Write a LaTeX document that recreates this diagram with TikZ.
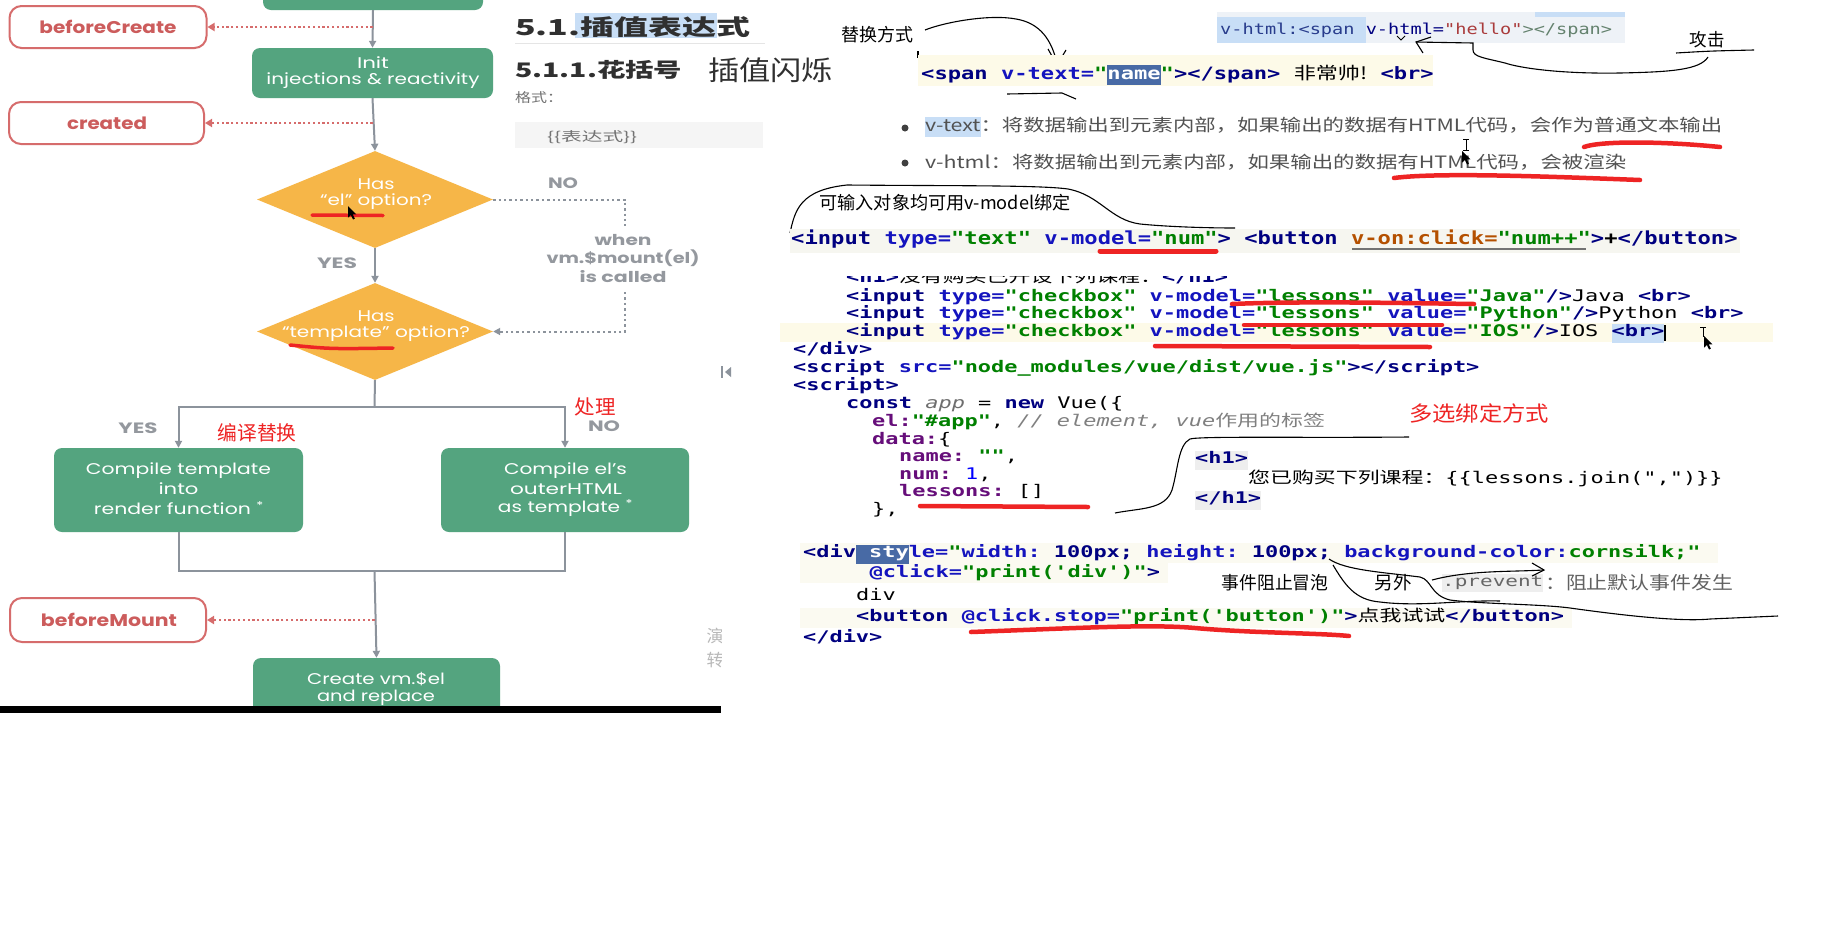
\documentclass[tikz,border=0pt]{standalone}
\usepackage{fontspec}
\setmainfont{Poppins}
\setmonofont{DejaVu Sans Mono}
\newfontfamily\cjk{Noto Sans CJK SC}
\usetikzlibrary{arrows.meta,shapes.geometric}
\newcommand\W[2]{\resizebox{#1}{\height}{#2}}
\newcommand\SX[2]{\scalebox{#1}[1]{#2}}
\newcommand\hlb[2]{{\setlength{\fboxsep}{0pt}\colorbox{#1}{\strut #2}}}
\definecolor{vgreen}{RGB}{84,164,127}
\definecolor{vorange}{RGB}{246,182,72}
\definecolor{hookred}{RGB}{214,108,108}
\definecolor{hooktext}{RGB}{204,92,92}
\definecolor{lgray}{RGB}{140,147,156}
\definecolor{lblgray}{RGB}{148,152,158}
\definecolor{annred}{RGB}{238,36,36}
\definecolor{navy}{RGB}{0,0,128}
\definecolor{attrc}{RGB}{20,20,190}
\definecolor{strc}{RGB}{0,128,0}
\definecolor{keyc}{RGB}{102,14,122}
\definecolor{cmtc}{RGB}{128,128,128}
\definecolor{appc}{RGB}{110,110,110}
\definecolor{numc}{RGB}{0,0,255}
\definecolor{vonc}{RGB}{180,80,0}
\definecolor{selbg}{RGB}{200,222,246}
\definecolor{selbgdark}{RGB}{72,106,165}
\definecolor{codebg}{RGB}{246,246,240}
\definecolor{yelbg}{RGB}{253,250,232}
\definecolor{paleybg}{RGB}{251,250,241}
\definecolor{topbg}{RGB}{238,242,247}
\definecolor{vhone}{RGB}{40,60,140}
\definecolor{helloc}{RGB}{170,60,60}
\definecolor{ggreen}{RGB}{100,130,110}
\definecolor{bultext}{RGB}{82,82,82}
\definecolor{headc}{RGB}{48,48,48}
\definecolor{tagbg}{RGB}{238,238,238}
\newcommand\cTag[1]{\textcolor{navy}{\textbf{#1}}}
\newcommand\cAtt[1]{\textcolor{attrc}{\textbf{#1}}}
\newcommand\cStr[1]{\textcolor{strc}{\textbf{#1}}}
\newcommand\cKey[1]{\textcolor{keyc}{\textbf{#1}}}
\newcommand\cCmt[1]{\textcolor{cmtc}{\textit{#1}}}
\newcommand\zh[1]{{\cjk #1}}
\newcommand\cD[1]{\SX{1.37}{\strut #1}}
\tikzset{
  flowbox/.style={rounded corners=8pt, fill=vgreen, draw=none, inner sep=0pt},
  hookbox/.style={draw=hookred, line width=2pt, rounded corners=12pt, fill=white, inner sep=0pt},
  hookline/.style={hookred, line width=1.8pt, dash pattern=on 2.2pt off 2.6pt, -{Triangle[length=7pt,width=8pt]}},
  flowline/.style={lgray, line width=2pt, -{Triangle[length=7pt,width=7pt]}},
  flowplain/.style={lgray, line width=2pt},
  nodash/.style={lgray, line width=2pt, dash pattern=on 2.4pt off 3pt},
  wtxt/.style={text=white, font=\fontsize{15.5}{18}\selectfont, inner sep=0pt},
  hooktxt/.style={text=hooktext, font=\bfseries\fontsize{17}{20}\selectfont, inner sep=0pt},
  graytxt/.style={text=lblgray, font=\bfseries\fontsize{15}{18}\selectfont, inner sep=0pt},
  ann/.style={font=\cjk\fontsize{18}{21}\selectfont, inner sep=0pt},
  annr/.style={text=annred, font=\cjk\fontsize{20}{23}\selectfont, inner sep=0pt},
  redmark/.style={draw=annred, line width=4.5pt, line cap=round},
  pen/.style={draw=black, line width=1.1pt},
  codeD/.style={anchor=west, inner sep=0pt, font=\ttfamily\fontsize{16}{19}\selectfont},
  cursorpic/.pic={\fill[black] (0,0) -- (0,13) -- (3.2,10) -- (5.6,15) -- (7.6,14) -- (5.2,9.2) -- (9.2,9.2) -- cycle;}
}
\begin{document}
\begin{tikzpicture}[x=1pt,y=-1pt]
\useasboundingbox (0,0) rectangle (1829,951);
\fill[white] (0,0) rectangle (1829,951);

% ---------------- flowchart ----------------
\node[flowbox, minimum width=220pt, minimum height=30pt] (top) at (373,-5) {};
\node[hookbox, minimum width=197pt, minimum height=42pt] (bc) at (108,27) {};
\node[hooktxt] at (108,27) {\W{137pt}{beforeCreate}};
\node[flowbox, minimum width=241pt, minimum height=50pt] (init) at (372.5,73) {};
\node[wtxt] at (373,63) {\W{32pt}{Init}};
\node[wtxt] at (373,81) {\W{213pt}{injections \& reactivity}};
\node[hookbox, minimum width=195pt, minimum height=42pt] (cr) at (106.5,123) {};
\node[hooktxt] at (107,123) {\W{80pt}{created}};
\node[diamond, fill=vorange, inner sep=0pt, minimum width=236pt, minimum height=97pt] (d1) at (375,199.5) {};
\node[wtxt] at (376,184) {\W{37pt}{Has}};
\node[wtxt] at (376,202) {\W{112pt}{“el” option?}};
\node[diamond, fill=vorange, inner sep=0pt, minimum width=236pt, minimum height=97pt] (d2) at (375,331.5) {};
\node[wtxt] at (376,316) {\W{37pt}{Has}};
\node[wtxt] at (376,334) {\W{188pt}{“template” option?}};
\node[flowbox, minimum width=249pt, minimum height=84pt] (ct) at (178.5,490) {};
\node[wtxt] at (178.5,471) {\W{185pt}{Compile template}};
\node[wtxt] at (178.5,489) {\W{40pt}{into}};
\node[wtxt] at (179,508) {\W{170pt}{render function \textsuperscript{*}}};
\node[flowbox, minimum width=248pt, minimum height=84pt] (ce) at (565,490) {};
\node[wtxt] at (565.5,471) {\W{123pt}{Compile el’s}};
\node[wtxt] at (566,489) {\W{112pt}{outerHTML}};
\node[wtxt] at (565.5,508) {\W{135pt}{as template \textsuperscript{*}}};
\node[hookbox, minimum width=196pt, minimum height=44pt] (bm) at (108,620) {};
\node[hooktxt] at (109,620) {\W{136pt}{beforeMount}};
\node[flowbox, minimum width=247pt, minimum height=66pt] (cv) at (376.5,691) {};
\node[wtxt] at (376,679) {\W{138pt}{Create vm.\$el}};
\node[wtxt] at (376,698) {\W{118pt}{and replace}};
\fill[white] (0,713) rectangle (740,740);
\fill[black] (0,706) rectangle (721,713);

\draw[flowline] (top.south) -- (init.north);
\draw[hookline] (init.north |- bc.east) -- (bc.east);
\draw[flowline] (init.south) -- (d1.north);
\draw[hookline] (init.south |- cr.east) -- (cr.east);
\draw[flowline] (d1.south) -- (d2.north);
\coordinate (n1) at (625,199.5);
\coordinate (n2) at (625,226);
\coordinate (n3) at (625,292);
\draw[nodash] (d1.east) -- (n1) -- (n2);
\draw[nodash, -{Triangle[length=7pt,width=7pt]}] (n3) -- (n3 |- d2.east) -- (d2.east);
\node[graytxt] at (337,263) {\W{40pt}{YES}};
\node[graytxt] at (563,183) {\W{30pt}{NO}};
\node[graytxt] at (623,240) {\W{57pt}{when}};
\node[graytxt] at (623,258) {\W{153pt}{vm.\$mount(el)}};
\node[graytxt] at (623,277) {\W{87pt}{is called}};
\coordinate (sp) at (374.5,407);
\draw[flowplain] (d2.south) -- (sp);
\draw[flowline] (sp) -| (ct.north);
\draw[flowline] (sp) -| (ce.north);
\coordinate (mg) at (374.5,571);
\draw[flowplain] (ct.south) |- (mg);
\draw[flowplain] (ce.south) |- (mg);
\draw[flowline] (mg) -- (cv.north);
\draw[hookline] (mg |- bm.east) -- (bm.east);
\node[graytxt] at (138,428) {\W{39pt}{YES}};
\node[graytxt] at (604,426) {\W{32pt}{NO}};
\node[annr] at (257,433) {\W{79pt}{编译替换}};
\node[annr] at (595,407) {\W{41pt}{处理}};
\draw[redmark, line width=3.5pt] (312,215) -- (383,215.5);
\draw[redmark, line width=3.5pt] (290,345) .. controls (330,349) .. (393,348);
\pic[scale=0.9] at (348,206) {cursorpic};
\begin{scope}
\clip (700,615) rectangle (721,680);
\node[font=\cjk\fontsize{17}{20}\selectfont, text=black!28, inner sep=0pt] (yan) at (715,636) {演};
\node[font=\cjk\fontsize{17}{20}\selectfont, text=black!28, inner sep=0pt] (zhuan) at (715,660) {转};
\end{scope}
\draw[lgray, line width=1.2pt] (722,366) -- (722,378);
\fill[lgray] (731,367) -- (725,372) -- (731,377) -- cycle;

% ---------------- middle headings ----------------
\fill[selbg] (575,13) rectangle (717,38);
\node[anchor=west, inner sep=0pt, text=headc, font=\cjk\bfseries\fontsize{22}{26}\selectfont] (h51) at (515,27) {\W{235pt}{5.1.插值表达式}};
\draw[black!10, line width=1pt] (515,43) -- (765,43);
\node[anchor=west, inner sep=0pt, text=headc, font=\cjk\bfseries\fontsize{20}{24}\selectfont] (h511) at (515,70) {\W{167pt}{5.1.1.花括号}};
\node[anchor=west, inner sep=0pt, text=headc, font=\cjk\fontsize{27}{30}\selectfont] (hsz) at (708,70) {\W{125pt}{插值闪烁}};
\node[anchor=west, inner sep=0pt, text=black!55, font=\cjk\fontsize{13}{16}\selectfont] (gs) at (515,98) {\W{48pt}{格式：}};
\fill[black!4] (515,122) rectangle (763,148);
\node[anchor=west, inner sep=0pt, text=black!55, font=\cjk\fontsize{13}{16}\selectfont] (bd) at (547,137) {\W{90pt}{\{\{表达式\}\}}};

% ---------------- v-html / v-text ----------------
\fill[topbg] (1217,12) rectangle (1625,43);
\fill[selbg] (1217,17) rectangle (1366,43);
\fill[selbg] (1535,12) rectangle (1625,17);
\node[anchor=west, inner sep=0pt, font=\ttfamily\fontsize{15}{18}\selectfont] (vh) at (1220,30) {\SX{1.24}{\textcolor{vhone}{v-html:<span} \textcolor{navy}{v-html=}\textcolor{helloc}{"hello"}\textcolor{ggreen}{></span>}}};
\draw[pen, line width=0.8pt] (1397,36) -- (1401,40) -- (1405,36);
\node[ann] (gj) at (1707,40) {\W{35pt}{攻击}};
\draw[pen] (1676,53) .. controls (1710,51) .. (1754,50);
\draw[pen] (1708,57) .. controls (1700,70) and (1670,72) .. (1620,73) .. controls (1560,74) and (1520,68) .. (1505,63) .. controls (1485,58) and (1473,57) .. (1473,50) -- (1473,43) -- (1416,42);
\draw[pen] (1423,53) -- (1416,42) -- (1431,37);

\node[ann] (thfs) at (877,35) {\W{72pt}{替换方式}};
\draw[pen] (925,30) .. controls (945,22) and (990,14) .. (1016,19) .. controls (1040,23) and (1052,40) .. (1057,64);
\draw[pen] (1048,49) -- (1057,65) -- (1066,50);
\draw[pen, line width=1.6pt] (918,51) -- (918,58);
\fill[yelbg] (918,55) rectangle (1433,86);
\node[anchor=west, inner sep=0pt, font=\ttfamily\fontsize{17}{20}\selectfont] (vt) at (921,75) {\SX{1.30}{\strut\cTag{<span} \cAtt{v-text=}\cStr{"}\hlb{selbgdark}{\textcolor{white}{\textbf{name}}}\cStr{"}\cTag{></span>} \zh{非常帅!} \cTag{<br>}}};
\draw[pen] (1007,94) -- (1062,93) -- (1076,99);

\node[circle, fill=black!75, inner sep=0pt, minimum size=7pt] (b1) at (905,128) {};
\node[circle, fill=black!75, inner sep=0pt, minimum size=7pt] (b2) at (905,163) {};
\node[anchor=west, inner sep=0pt, text=bultext, font=\cjk\fontsize{17}{20}\selectfont] (t1) at (925,127) {\W{797pt}{\hlb{selbg}{v-text}：将数据输出到元素内部，如果输出的数据有HTML代码，会作为普通文本输出}};
\node[anchor=west, inner sep=0pt, text=bultext, font=\cjk\fontsize{17}{20}\selectfont] (t2) at (925,162) {\W{701pt}{v-html：将数据输出到元素内部，如果输出的数据有HTML代码，会被渲染}};
\draw[redmark] (1584,147) .. controls (1600,141) and (1660,141) .. (1720,147);
\draw[redmark] (1394,178) .. controls (1440,172) and (1560,177) .. (1640,180);
\draw[pen, line width=0.9pt] (1463,139) -- (1469,139) (1466,139) -- (1466,150) (1463,150) -- (1469,150);
\pic[scale=0.9] at (1462,151) {cursorpic};

% ---------------- v-model text ----------------
\node[ann] (ka) at (945,203) {\W{251pt}{可输入对象均可用v-model绑定}};
\draw[pen] (790,233) .. controls (795,210) and (800,190) .. (847,185) .. controls (950,186) and (1040,185) .. (1068,189) .. controls (1100,195) and (1110,220) .. (1140,224) .. controls (1170,227) and (1210,228) .. (1235,228);
\fill[codebg] (790,229) rectangle (1740,253);
\node[anchor=west, inner sep=0pt, font=\ttfamily\fontsize{18}{21}\selectfont] (vm) at (791,240) {\SX{1.23}{\strut\cTag{<input} \cAtt{type=}\cStr{"text"} \cAtt{v-model=}\cStr{"num"}\cTag{>} \cTag{<button} \textcolor{vonc}{\textbf{v-on:click=}}\cStr{"num++"}\cTag{>}\textbf{+}\cTag{</button>}}};
\draw[black!55, line width=1.2pt] (1352,249) -- (1586,249);
\draw[redmark, line width=5pt] (1100,251) -- (1216,251);

% ---------------- checkbox code ----------------
\fill[yelbg] (780,323) rectangle (1773,342);
\begin{scope}
\clip (780,276) rectangle (1300,287);
\node[codeD] (l0) at (846,279) {\cD{\cTag{<h1>}\zh{没有购买已开设下列课程：}\cTag{</h1>}}};
\end{scope}
\node[codeD] (l1) at (846,298) {\cD{\cTag{<input} \cAtt{type=}\cStr{"checkbox"} \cAtt{v-model=}\cStr{"lessons"} \cAtt{value=}\cStr{"Java"}\cTag{/>}Java \cTag{<br>}}};
\node[codeD] (l2) at (846,315) {\cD{\cTag{<input} \cAtt{type=}\cStr{"checkbox"} \cAtt{v-model=}\cStr{"lessons"} \cAtt{value=}\cStr{"Python"}\cTag{/>}Python \cTag{<br>}}};
\node[codeD] (l3) at (846,333) {\cD{\cTag{<input} \cAtt{type=}\cStr{"checkbox"} \cAtt{v-model=}\cStr{"lessons"} \cAtt{value=}\cStr{"IOS"}\cTag{/>}IOS \hlb{selbg}{\cTag{<br>}}\rule[-4pt]{1.2pt}{16pt}}};
\node[codeD] (l4) at (793,351) {\cD{\cTag{</div>}}};
\node[codeD] (l5) at (793,369) {\cD{\cTag{<script} \cAtt{src=}\cStr{"node\_modules/vue/dist/vue.js"}\cTag{></script>}}};
\node[codeD] (l6) at (793,387) {\cD{\cTag{<script>}}};
\node[codeD] (l7) at (846,405) {\cD{\cTag{const} \textcolor{appc}{\textit{app}} = \cTag{new} Vue(\{}};
\node[codeD] (l8) at (872,423) {\cD{\cKey{el:}\cStr{"\#app"}, \cCmt{// element, vue\zh{作用的标签}}}};
\node[codeD] (l9) at (872,441) {\cD{\cKey{data:}\{}};
\node[codeD] (l10) at (899,458) {\cD{\cKey{name:} \cStr{""},}};
\node[codeD] (l11) at (899,476) {\cD{\cKey{num:} \textcolor{numc}{1},}};
\node[codeD] (l12) at (899,493) {\cD{\cKey{lessons:} []}};
\begin{scope}
\clip (780,500) rectangle (1000,517);
\node[codeD] (l13) at (872,511) {\cD{\},}};
\end{scope}
\draw[redmark] (1232,304) .. controls (1300,301) and (1400,303) .. (1474,304);
\draw[redmark] (1244,325) -- (1442,325);
\draw[redmark] (1155,346) -- (1430,347);
\draw[redmark] (920,506) -- (1088,507);
\draw[pen, line width=0.9pt] (1700,327) -- (1706,327) (1703,327) -- (1703,337);
\pic[scale=0.9] at (1704,336) {cursorpic};

\node[annr, font=\cjk\fontsize{21}{24}\selectfont] (dx) at (1479,413) {\W{140pt}{多选绑定方式}};
\draw[pen] (1115,513) .. controls (1140,508) and (1165,510) .. (1172,490) .. controls (1178,470) and (1178,445) .. (1190,439) .. controls (1200,436) and (1300,438) .. (1409,437);
\node[codeD] (h1a) at (1195,460) {\cD{\hlb{tagbg}{\cTag{<h1>}}}};
\node[codeD] (h1b) at (1248,480) {\cD{\zh{您已购买下列课程：}\{\{lessons.join(",")\}\}}};
\node[codeD] (h1c) at (1195,500) {\cD{\hlb{tagbg}{\cTag{</h1>}}}};

% ---------------- event code ----------------
\fill[paleybg] (800,543) rectangle (1718,563);
\fill[paleybg] (800,563) rectangle (1168,583);
\fill[paleybg] (800,608) rectangle (1572,628);
\node[codeD] (e1) at (803,554) {\cD{\cTag{<div}\hlb{selbgdark}{\textcolor{white}{\textbf{\ sty}}}\cAtt{le=}\cStr{"}\cAtt{width:} \cTag{100px;} \cAtt{height:} \cTag{100px;} \cAtt{background-color:}\cStr{cornsilk;"}}};
\node[codeD] (e2) at (869.5,574) {\cD{\cAtt{@click=}\cStr{"print('div')"}\cTag{>}}};
\node[codeD] (e3) at (856,597) {\cD{div}};
\node[codeD] (e4) at (856,618) {\cD{\cTag{<button} \cAtt{@click.stop=}\cStr{"print('button')"}\cTag{>}\zh{点我试试}\cTag{</button>}}};
\node[codeD] (e5) at (803,639) {\cD{\cTag{</div>}}};
\draw[redmark] (971,632) .. controls (1080,628) and (1150,624) .. (1195,628) .. controls (1250,633) and (1320,633) .. (1349,636);
\node[ann] (sj) at (1275,583) {\W{107pt}{事件阻止冒泡}};
\node[ann] (lw) at (1393,583) {\W{37pt}{另外}};
\node[anchor=west, inner sep=0pt, text=black!60, font=\ttfamily\fontsize{15}{18}\selectfont] (pv) at (1442,583) {\SX{1.4}{\hlb{tagbg}{.prevent}}};
\node[anchor=west, inner sep=0pt, text=black!62, font=\cjk\fontsize{18}{21}\selectfont] (pvt) at (1545,583) {\W{188pt}{：阻止默认事件发生}};
\draw[pen] (1329,559) .. controls (1345,570) and (1380,572) .. (1420,577) .. controls (1432,580) and (1430,595) .. (1450,600) .. controls (1480,604) and (1540,604) .. (1570,608) .. controls (1620,615) and (1680,622) .. (1710,619) -- (1778,616);
\draw[pen] (1333,565) .. controls (1345,585) and (1355,600) .. (1380,602) .. controls (1420,607) and (1460,600) .. (1500,601);
\draw[pen] (1432,580) .. controls (1470,570) and (1510,572) .. (1543,570);
\draw[pen] (1532,563) -- (1544,570) -- (1532,576);
\end{tikzpicture}
\end{document}
